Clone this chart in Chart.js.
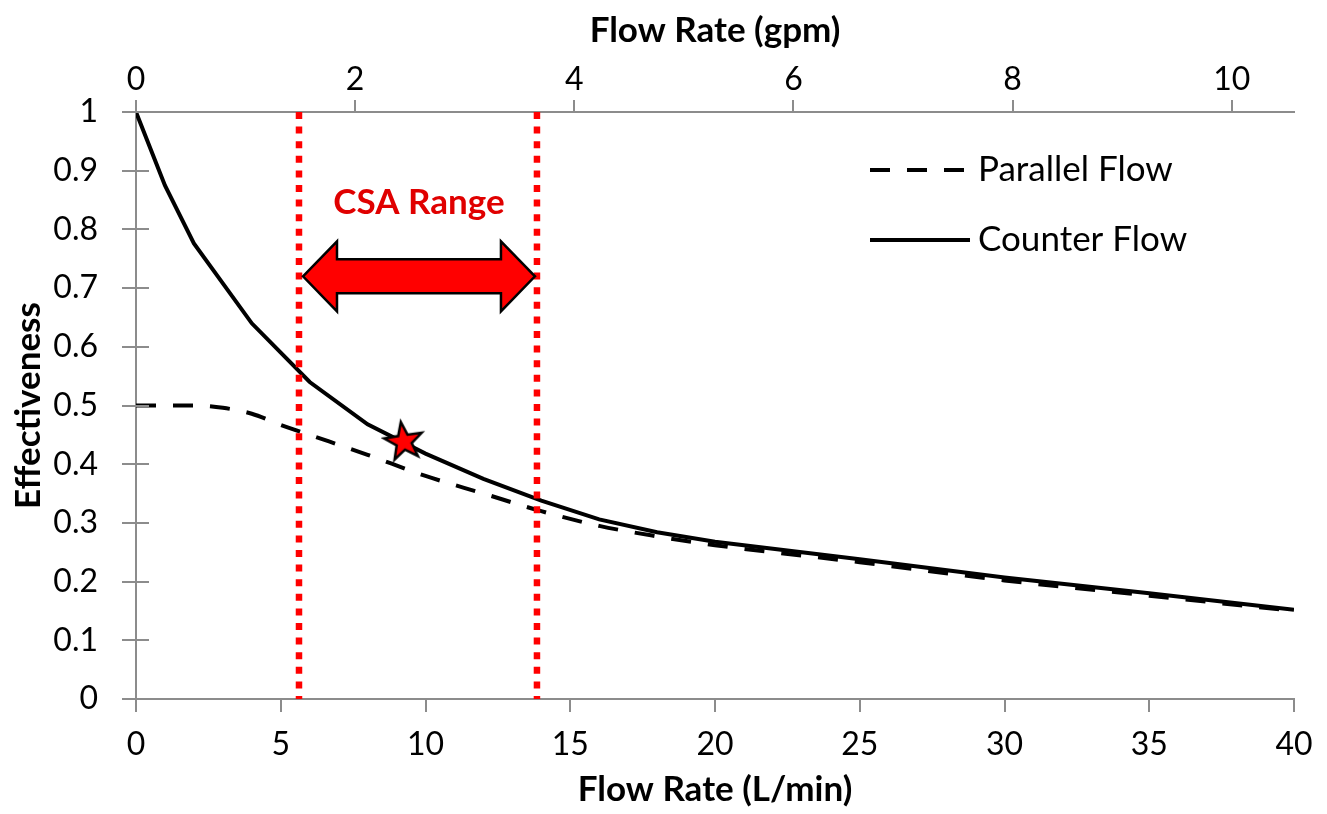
<!DOCTYPE html>
<html>
<head>
<meta charset="utf-8">
<script src="https://cdn.jsdelivr.net/npm/chart.js@4.4.1/dist/chart.umd.min.js"></script>
<style>
  html, body { margin: 0; padding: 0; background: #fff; }
  #wrap { width: 1327px; height: 814px; }
</style>
</head>
<body>
<div id="wrap"><canvas id="chart" width="1327" height="814"></canvas></div>
<script>
// flow rate in L/min, effectiveness 0..1
var counterX  = [0, 1, 2, 4, 6, 8, 10, 12, 14, 16, 18, 20, 25, 30, 35, 40];
var counterY  = [1.0, 0.875, 0.776, 0.64, 0.54, 0.468, 0.418, 0.375, 0.338, 0.306, 0.284, 0.268, 0.238, 0.207, 0.18, 0.152];
var parallelX = [0, 2, 3, 4, 5, 6, 8, 10, 12, 14, 16, 18, 20, 25, 30, 35, 40];
var parallelY = [0.5, 0.5, 0.496, 0.486, 0.467, 0.45, 0.416, 0.38, 0.35, 0.32, 0.295, 0.277, 0.262, 0.233, 0.202, 0.176, 0.15];

var gpmTicks = [0, 2, 4, 6, 8, 10];
var csaRange = [5.63, 13.85];      // L/min
var designPoint = [9.25, 0.44];    // the star
var arrowLevel = 0.72;
var csaLabelLevel = 0.845;
var seriesNames = ['Parallel Flow', 'Counter Flow'];

var LPM_PER_GPM = 3.785;
var FONT = "Lato, 'Open Sans', sans-serif";
var AXIS_GREY = '#8c8c8c';

function pts(xs, ys) {
    return xs.map(function(x, i) { return { x: x, y: ys[i] }; });
}

function makeStar() {
    var c = document.createElement('canvas');
    c.width = 46; c.height = 46;
    var g = c.getContext('2d');
    var cx = 23, cy = 24, ro = 20, ri = 8, rot = -0.15;
    g.beginPath();
    for (var i = 0; i < 10; i++) {
        var r = i % 2 === 0 ? ro : ri;
        var a = rot - Math.PI / 2 + i * Math.PI / 5;
        var px = cx + r * Math.cos(a), py = cy + r * Math.sin(a);
        if (i === 0) g.moveTo(px, py); else g.lineTo(px, py);
    }
    g.closePath();
    g.fillStyle = '#ff0000';
    g.fill();
    g.lineWidth = 2.5;
    g.strokeStyle = '#000';
    g.lineJoin = 'miter';
    g.stroke();
    return c;
}

var overlay = {
    id: 'overlay',
    afterDatasetsDraw: function(chart) {
        var ctx = chart.ctx;
        var xs = chart.scales.x, ys = chart.scales.y;
        var area = chart.chartArea;

        // inner half of the y ticks (they cross the axis)
        ctx.save();
        ctx.strokeStyle = AXIS_GREY;
        ctx.lineWidth = 2;
        ys.ticks.forEach(function(t) {
            var py = Math.round(ys.getPixelForValue(t.value));
            ctx.beginPath();
            ctx.moveTo(area.left, py);
            ctx.lineTo(area.left + 13, py);
            ctx.stroke();
        });
        ctx.restore();

        // double arrow between the CSA limits
        var x1 = xs.getPixelForValue(csaRange[0]) + 4;
        var x2 = xs.getPixelForValue(csaRange[1]) - 2;
        var yc = ys.getPixelForValue(arrowLevel);
        var hl = 34, hh = 35, bh = 17;
        ctx.save();
        ctx.beginPath();
        ctx.moveTo(x1, yc);
        ctx.lineTo(x1 + hl, yc - hh);
        ctx.lineTo(x1 + hl, yc - bh);
        ctx.lineTo(x2 - hl, yc - bh);
        ctx.lineTo(x2 - hl, yc - hh);
        ctx.lineTo(x2, yc);
        ctx.lineTo(x2 - hl, yc + hh);
        ctx.lineTo(x2 - hl, yc + bh);
        ctx.lineTo(x1 + hl, yc + bh);
        ctx.lineTo(x1 + hl, yc + hh);
        ctx.closePath();
        ctx.fillStyle = '#ff0000';
        ctx.fill();
        ctx.lineWidth = 2.5;
        ctx.strokeStyle = '#000';
        ctx.stroke();

        ctx.fillStyle = '#e00000';
        ctx.font = 'bold 35px ' + FONT;
        ctx.textAlign = 'center';
        ctx.textBaseline = 'middle';
        ctx.fillText('CSA Range', (x1 + x2) / 2, ys.getPixelForValue(csaLabelLevel));
        ctx.restore();

        // legend, inside the plot at top right
        var ds = chart.data.datasets;
        var lx = 870, ly = 170, gap = 70;
        ctx.save();
        ctx.font = '35px ' + FONT;
        ctx.textAlign = 'left';
        ctx.textBaseline = 'middle';
        [3, 4].forEach(function(k, i) {
            var d = ds[k];
            var y = ly + i * gap;
            ctx.beginPath();
            ctx.setLineDash(d.borderDash || []);
            ctx.lineWidth = d.borderWidth;
            ctx.strokeStyle = d.borderColor;
            ctx.moveTo(lx, y);
            ctx.lineTo(lx + 100, y);
            ctx.stroke();
            ctx.setLineDash([]);
            ctx.fillStyle = '#000';
            ctx.fillText(d.label, lx + 108, y);
        });
        ctx.restore();
    }
};

var ctx = document.getElementById('chart');

var tickFont = { family: FONT, size: 32 };
var titleFont = { family: FONT, size: 35, weight: 'bold' };

new Chart(ctx, {
    type: 'scatter',
    data: {
        datasets: [
            {
                label: 'design point',
                data: [{ x: designPoint[0], y: designPoint[1] }],
                pointStyle: makeStar(),
                showLine: false
            },
            {
                label: 'CSA min',
                data: [{ x: csaRange[0], y: 1 }, { x: csaRange[0], y: 0 }],
                showLine: true,
                borderColor: '#ff0000',
                borderWidth: 6.5,
                borderDash: [7, 7.6],
                pointRadius: 0
            },
            {
                label: 'CSA max',
                data: [{ x: csaRange[1], y: 1 }, { x: csaRange[1], y: 0 }],
                showLine: true,
                borderColor: '#ff0000',
                borderWidth: 6.5,
                borderDash: [7, 7.6],
                pointRadius: 0
            },
            {
                label: seriesNames[0],
                data: pts(parallelX, parallelY),
                showLine: true,
                borderColor: '#000',
                borderWidth: 4,
                borderDash: [20, 17],
                cubicInterpolationMode: 'monotone',
                pointRadius: 0
            },
            {
                label: seriesNames[1],
                data: pts(counterX, counterY),
                showLine: true,
                borderColor: '#000',
                borderWidth: 4,
                tension: 0,
                pointRadius: 0
            }
        ]
    },
    options: {
        responsive: false,
        animation: false,
        devicePixelRatio: 1,
        layout: { padding: { left: 0, right: 33, top: 0, bottom: 0 } },
        plugins: {
            legend: { display: false },
            tooltip: { enabled: false }
        },
        scales: {
            x: {
                type: 'linear',
                position: 'bottom',
                min: 0,
                max: 40,
                ticks: { stepSize: 5, color: '#000', font: tickFont, padding: 13, maxRotation: 0 },
                grid: { drawOnChartArea: false, tickLength: 13, color: AXIS_GREY, lineWidth: 2 },
                border: { color: AXIS_GREY, width: 2 },
                title: { display: true, text: 'Flow Rate (L/min)', color: '#000', font: titleFont, padding: { top: 0, bottom: 3 } },
                afterFit: function(s) { s.height = 115; }
            },
            x2: {
                type: 'linear',
                position: 'top',
                min: 0,
                max: 40 / LPM_PER_GPM,
                ticks: { color: '#000', font: tickFont, padding: 1, maxRotation: 0, autoSkip: false },
                grid: { drawOnChartArea: false, tickLength: 12, color: AXIS_GREY, lineWidth: 2 },
                border: { color: AXIS_GREY, width: 2 },
                title: { display: true, text: 'Flow Rate (gpm)', color: '#000', font: titleFont, padding: { top: 10, bottom: 0 } },
                afterBuildTicks: function(s) {
                    s.ticks = gpmTicks.map(function(v) { return { value: v }; });
                },
                afterFit: function(s) { s.height = 112; }
            },
            y: {
                min: 0,
                max: 1,
                ticks: {
                    stepSize: 0.1, color: '#000', font: tickFont, padding: 24,
                    callback: function(v) { return String(Math.round(v * 10) / 10); }
                },
                grid: { drawOnChartArea: false, tickLength: 14, color: AXIS_GREY, lineWidth: 2 },
                border: { color: AXIS_GREY, width: 2 },
                title: { display: true, text: 'Effectiveness', color: '#000', font: titleFont, padding: { top: 8, bottom: 0 } },
                afterFit: function(s) { s.width = 136; }
            }
        }
    },
    plugins: [overlay]
});
</script>
</body>
</html>
